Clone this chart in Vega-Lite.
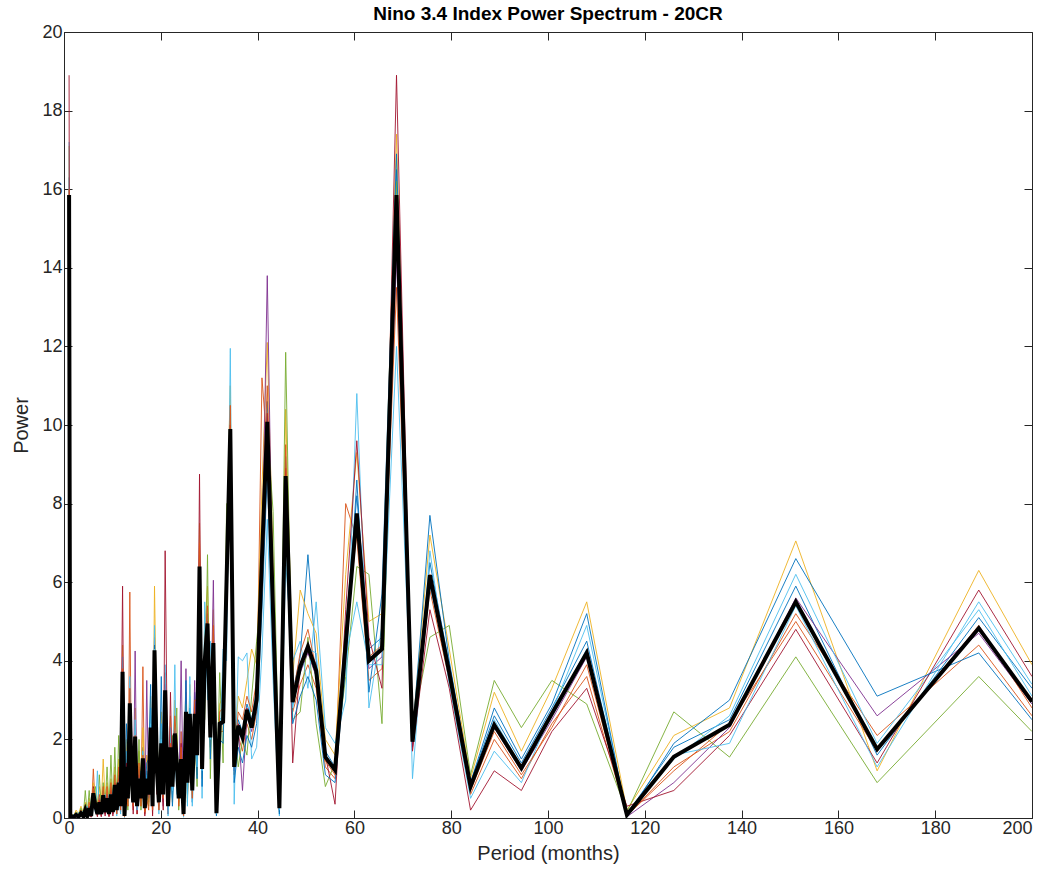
{
"$schema":"https://vega.github.io/schema/vega-lite/v6.json",
"width":968,"height":786,
"autosize":{"type":"none"},
"padding":{"left":64,"top":32,"right":19,"bottom":59},
"background":"white",
"title":{"text":"Nino 3.4 Index Power Spectrum - 20CR","font":"Liberation Sans","fontSize":19,"fontWeight":"bold","color":"#000000","anchor":"middle","baseline":"bottom","offset":0,"dy":20},
"config":{
"view":{"stroke":"#262626","strokeWidth":1},
"axis":{"labelFont":"Liberation Sans","labelFontSize":18,"labelColor":"#262626","titleFont":"Liberation Sans","titleFontSize":20,"titleFontWeight":"normal","titleColor":"#262626","grid":false,"tickColor":"#262626","domainColor":"#262626","tickSize":-8,"labelPadding":10}
},
"datasets":{"s":[
{"p":200,"m":2.96,"a":3.3,"b":2.6,"c":3.9,"d":2.9,"e":2.2,"f":3.1,"g":3.6,"h":2.5,"i":2.8,"j":3.4},
{"p":189,"m":4.83,"a":5.1,"b":4.4,"c":6.3,"d":4.7,"e":3.6,"f":5.3,"g":5.8,"h":4.2,"i":4.9,"j":5.5},
{"p":168,"m":1.75,"a":1.6,"b":2.1,"c":1.2,"d":2.6,"e":0.9,"f":1.9,"g":1.4,"h":3.1,"i":1.7,"j":1.3},
{"p":151.2,"m":5.5,"a":5.9,"b":5.2,"c":7.05,"d":5.6,"e":4.1,"f":6.2,"g":4.8,"h":6.6,"i":5.0,"j":5.4},
{"p":137.5,"m":2.37,"a":2.5,"b":2.2,"c":2.8,"d":2.3,"e":1.55,"f":2.6,"g":2.1,"h":3.0,"i":2.4,"j":1.9},
{"p":126,"m":1.56,"a":1.8,"b":1.3,"c":2.1,"d":0.9,"e":2.7,"f":1.5,"g":0.7,"h":1.9,"i":1.2,"j":1.6},
{"p":116.3,"m":0.08,"a":0.1,"b":0.05,"c":0.2,"d":0.03,"e":0.15,"f":0.08,"g":0.3,"h":0.02,"i":0.06,"j":0.12},
{"p":108,"m":4.2,"a":4.5,"b":3.6,"c":5.5,"d":4.1,"e":2.9,"f":4.9,"g":3.3,"h":5.2,"i":3.9,"j":4.3},
{"p":100.8,"m":2.65,"a":2.8,"b":2.4,"c":3.3,"d":2.5,"e":3.5,"f":2.7,"g":2.2,"h":2.9,"i":2.3,"j":2.6},
{"p":94.5,"m":1.27,"a":1.4,"b":1.0,"c":1.7,"d":1.2,"e":2.3,"f":0.9,"g":0.7,"h":1.5,"i":1.1,"j":1.3},
{"p":88.9,"m":2.37,"a":2.6,"b":2.0,"c":3.2,"d":2.3,"e":3.5,"f":1.7,"g":1.2,"h":2.8,"i":2.2,"j":2.5},
{"p":84,"m":0.8,"a":0.9,"b":0.6,"c":1.0,"d":0.8,"e":1.1,"f":0.5,"g":0.2,"h":0.9,"i":0.7,"j":0.85},
{"p":79.6,"m":3.7,"a":3.9,"b":3.5,"c":4.3,"d":3.6,"e":4.9,"f":3.4,"g":3.3,"h":4.0,"i":3.7,"j":3.8},
{"p":75.6,"m":6.18,"a":6.5,"b":5.8,"c":7.2,"d":6.0,"e":4.6,"f":6.8,"g":5.3,"h":7.7,"i":6.2,"j":5.9},
{"p":72,"m":1.94,"a":2.0,"b":1.9,"c":2.2,"d":1.8,"e":2.3,"f":1.0,"g":1.7,"h":2.1,"i":2.0,"j":1.95},
{"p":68.7,"m":15.85,"a":16.5,"b":15.2,"c":17.4,"d":14.3,"e":16.2,"f":15.8,"g":18.9,"h":16.9,"i":13.5,"j":12.0},
{"p":65.7,"m":4.3,"a":4.6,"b":3.8,"c":5.2,"d":4.1,"e":2.4,"f":4.9,"g":3.3,"h":5.7,"i":4.4,"j":3.9},
{"p":63,"m":4.0,"a":4.3,"b":3.5,"c":5.0,"d":3.8,"e":6.2,"f":2.8,"g":4.6,"h":3.2,"i":4.1,"j":3.9},
{"p":60.5,"m":7.75,"a":8.2,"b":7.1,"c":9.3,"d":7.6,"e":6.4,"f":10.8,"g":9.6,"h":8.6,"i":7.3,"j":5.5},
{"p":58.2,"m":4.44,"a":4.8,"b":8.0,"c":6.2,"d":4.2,"e":3.6,"f":3.0,"g":5.3,"h":3.9,"i":4.5,"j":4.1},
{"p":56,"m":1.22,"a":1.3,"b":1.0,"c":1.6,"d":1.2,"e":1.4,"f":1.9,"g":0.35,"h":0.9,"i":1.1,"j":1.25},
{"p":54,"m":1.55,"a":1.7,"b":1.3,"c":2.0,"d":1.5,"e":0.8,"f":2.3,"g":1.6,"h":1.1,"i":1.45,"j":1.6},
{"p":52.1,"m":3.75,"a":4.0,"b":3.3,"c":4.7,"d":3.6,"e":2.4,"f":5.5,"g":3.9,"h":3.0,"i":3.8,"j":4.2},
{"p":50.4,"m":4.36,"a":6.7,"b":3.9,"c":5.2,"d":4.2,"e":4.6,"f":3.3,"g":4.4,"h":3.6,"i":4.8,"j":4.3},
{"p":48.8,"m":3.85,"a":4.1,"b":3.4,"c":5.8,"d":3.7,"e":2.7,"f":4.5,"g":3.9,"h":3.1,"i":4.2,"j":3.8},
{"p":47.25,"m":2.95,"a":3.2,"b":2.7,"c":3.6,"d":2.9,"e":2.5,"f":4.0,"g":1.4,"h":2.4,"i":3.1,"j":2.8},
{"p":45.8,"m":8.7,"a":9.2,"b":8.1,"c":10.4,"d":8.6,"e":11.85,"f":6.5,"g":8.9,"h":7.6,"i":9.5,"j":8.3},
{"p":44.5,"m":0.25,"a":0.3,"b":0.15,"c":0.45,"d":0.2,"e":0.6,"f":0.05,"g":0.25,"h":0.1,"i":0.35,"j":0.2},
{"p":43.2,"m":5.2,"a":5.6,"b":4.7,"c":6.5,"d":5.0,"e":7.8,"f":3.5,"g":5.3,"h":4.3,"i":5.9,"j":5.1},
{"p":42,"m":10.08,"a":10.6,"b":9.4,"c":12.1,"d":13.8,"e":9.9,"f":7.6,"g":10.3,"h":8.8,"i":11.0,"j":9.7},
{"p":40.9,"m":6.6,"a":7.0,"b":11.2,"c":8.4,"d":6.4,"e":5.9,"f":4.2,"g":6.8,"h":5.3,"i":7.5,"j":6.2},
{"p":39.8,"m":3.0,"a":3.3,"b":2.7,"c":3.9,"d":2.9,"e":4.5,"f":1.8,"g":3.1,"h":2.4,"i":3.5,"j":3.0},
{"p":38.77,"m":2.3,"a":2.5,"b":2.0,"c":4.3,"d":2.2,"e":3.1,"f":1.5,"g":2.4,"h":1.8,"i":2.7,"j":2.3},
{"p":37.8,"m":2.75,"a":2.9,"b":2.4,"c":3.5,"d":2.6,"e":1.6,"f":4.2,"g":2.8,"h":2.1,"i":3.1,"j":2.7},
{"p":36.88,"m":2.05,"a":2.2,"b":1.7,"c":2.8,"d":0.7,"e":2.0,"f":4.0,"g":2.1,"h":1.4,"i":2.5,"j":2.0},
{"p":36.0,"m":2.35,"a":2.5,"b":2.1,"c":3.1,"d":2.3,"e":1.3,"f":4.1,"g":2.4,"h":1.8,"i":2.7,"j":2.2},
{"p":35.16,"m":1.3,"a":1.4,"b":1.1,"c":1.8,"d":1.2,"e":2.4,"f":0.35,"g":1.3,"h":0.9,"i":1.6,"j":1.3},
{"p":34.36,"m":9.9,"a":10.3,"b":9.5,"c":11.0,"d":9.8,"e":8.0,"f":11.95,"g":10.0,"h":9.1,"i":10.5,"j":9.7},
{"p":33.6,"m":6.1,"a":6.4,"b":5.7,"c":7.1,"d":6.0,"e":8.0,"f":4.0,"g":6.2,"h":5.2,"i":6.7,"j":6.0},
{"p":32.87,"m":2.45,"a":2.6,"b":2.2,"c":3.1,"d":2.4,"e":1.4,"f":4.3,"g":2.5,"h":1.9,"i":2.8,"j":2.4},
{"p":32.17,"m":2.4,"a":2.5,"b":2.2,"c":2.9,"d":2.3,"e":3.7,"f":1.5,"g":2.4,"h":2.0,"i":2.7,"j":2.4},
{"p":31.5,"m":0.12,"a":0.15,"b":0.08,"c":0.3,"d":0.1,"e":0.5,"f":0.05,"g":0.12,"h":0.06,"i":0.2,"j":0.1},
{"p":30.86,"m":4.45,"a":4.7,"b":4.1,"c":5.3,"d":6.05,"e":4.4,"f":2.8,"g":4.5,"h":3.7,"i":4.9,"j":4.3},
{"p":30.24,"m":2.05,"a":2.2,"b":1.8,"c":2.7,"d":2.0,"e":1.0,"f":4.5,"g":2.1,"h":1.5,"i":2.4,"j":2.0},
{"p":29.65,"m":4.95,"a":5.2,"b":4.6,"c":5.9,"d":4.9,"e":6.7,"f":3.0,"g":5.0,"h":4.2,"i":5.4,"j":4.8},
{"p":29.08,"m":4.0,"a":4.2,"b":3.7,"c":4.8,"d":3.9,"e":2.5,"f":5.5,"g":4.0,"h":3.3,"i":4.4,"j":3.9},
{"p":28.53,"m":1.25,"a":1.4,"b":1.0,"c":1.8,"d":1.2,"e":2.5,"f":0.5,"g":1.3,"h":0.8,"i":1.5,"j":1.2},
{"p":28.0,"m":6.4,"a":6.7,"b":6.0,"c":7.5,"d":6.3,"e":4.5,"f":5.4,"g":8.75,"h":6.5,"i":7.0,"j":6.2},
{"p":27.5,"m":1.6,"a":1.9,"b":1.1,"c":2.4,"d":1.4,"e":0.8,"f":2.1,"g":1.6,"h":1.0,"i":3.0,"j":1.3},
{"p":27.0,"m":2.65,"a":3.2,"b":1.9,"c":2.9,"d":3.5,"e":2.2,"f":1.5,"g":2.7,"h":2.4,"i":3.0,"j":2.0},
{"p":26.5,"m":0.7,"a":0.4,"b":1.2,"c":0.6,"d":0.9,"e":1.8,"f":0.3,"g":0.8,"h":1.1,"i":0.5,"j":0.7},
{"p":26.0,"m":2.65,"a":2.9,"b":2.2,"c":3.4,"d":2.0,"e":2.6,"f":3.1,"g":1.6,"h":2.8,"i":2.3,"j":3.6},
{"p":25.5,"m":0.9,"a":1.2,"b":0.5,"c":0.8,"d":1.6,"e":0.4,"f":1.0,"g":1.4,"h":0.6,"i":0.9,"j":0.3},
{"p":25.2,"m":2.7,"a":2.4,"b":3.2,"c":2.0,"d":3.8,"e":2.9,"f":1.8,"g":2.6,"h":3.5,"i":2.2,"j":2.7},
{"p":24.7,"m":0.1,"a":0.3,"b":0.05,"c":0.6,"d":0.1,"e":0.4,"f":0.02,"g":0.2,"h":0.8,"i":0.05,"j":0.15},
{"p":24.2,"m":1.5,"a":1.3,"b":2.2,"c":1.0,"d":4.0,"e":1.6,"f":0.7,"g":1.9,"h":1.2,"i":1.8,"j":0.9},
{"p":23.7,"m":0.5,"a":0.7,"b":0.3,"c":1.1,"d":0.4,"e":0.2,"f":0.9,"g":0.5,"h":1.4,"i":0.3,"j":0.6},
{"p":23.3,"m":1.4,"a":1.6,"b":2.1,"c":1.0,"d":1.3,"e":2.8,"f":0.8,"g":1.5,"h":1.1,"i":1.9,"j":0.6},
{"p":22.9,"m":2.15,"a":2.5,"b":1.7,"c":3.0,"d":2.2,"e":1.3,"f":3.9,"g":2.0,"h":1.6,"i":2.6,"j":1.9},
{"p":22.4,"m":0.8,"a":0.6,"b":1.3,"c":0.4,"d":1.0,"e":2.1,"f":0.5,"g":0.9,"h":0.3,"i":1.2,"j":0.7},
{"p":22.0,"m":1.8,"a":2.1,"b":1.4,"c":2.6,"d":1.7,"e":1.0,"f":2.3,"g":3.2,"h":1.5,"i":1.9,"j":1.2},
{"p":21.5,"m":0.3,"a":0.5,"b":0.1,"c":0.8,"d":0.2,"e":0.4,"f":1.2,"g":0.1,"h":0.6,"i":0.3,"j":0.05},
{"p":20.9,"m":3.25,"a":2.8,"b":3.7,"c":2.2,"d":3.4,"e":2.6,"f":3.9,"g":6.8,"h":2.0,"i":3.1,"j":2.5},
{"p":20.5,"m":0.6,"a":0.8,"b":0.4,"c":1.1,"d":0.3,"e":0.7,"f":1.5,"g":0.2,"h":0.9,"i":0.5,"j":0.6},
{"p":20.1,"m":1.9,"a":2.2,"b":1.5,"c":2.7,"d":1.8,"e":1.1,"f":2.4,"g":1.7,"h":3.6,"i":1.3,"j":2.0},
{"p":19.6,"m":0.4,"a":0.6,"b":0.2,"c":0.9,"d":0.3,"e":0.5,"f":0.1,"g":1.0,"h":0.4,"i":0.2,"j":0.7},
{"p":19.2,"m":1.2,"a":1.4,"b":1.0,"c":1.9,"d":0.8,"e":2.5,"f":1.1,"g":0.6,"h":1.3,"i":0.9,"j":1.5},
{"p":18.7,"m":4.27,"a":4.0,"b":3.5,"c":5.9,"d":4.6,"e":3.8,"f":4.9,"g":3.2,"h":4.4,"i":4.1,"j":4.3},
{"p":18.3,"m":0.3,"a":0.5,"b":0.1,"c":0.7,"d":0.2,"e":1.0,"f":0.3,"g":0.05,"h":0.6,"i":0.2,"j":0.4},
{"p":17.9,"m":2.3,"a":2.6,"b":1.9,"c":3.1,"d":2.2,"e":1.5,"f":2.8,"g":2.0,"h":3.4,"i":1.7,"j":2.4},
{"p":17.5,"m":0.6,"a":0.8,"b":0.4,"c":1.2,"d":0.5,"e":0.3,"f":0.9,"g":0.6,"h":1.5,"i":0.2,"j":0.7},
{"p":17.1,"m":1.0,"a":1.2,"b":0.7,"c":1.6,"d":3.5,"e":0.6,"f":1.1,"g":0.9,"h":1.4,"i":0.5,"j":1.0},
{"p":16.7,"m":0.25,"a":0.4,"b":0.1,"c":0.6,"d":0.2,"e":0.9,"f":0.3,"g":0.05,"h":0.5,"i":0.15,"j":0.3},
{"p":16.3,"m":1.52,"a":1.8,"b":3.85,"c":2.3,"d":1.4,"e":0.9,"f":1.7,"g":1.2,"h":1.1,"i":1.6,"j":1.3},
{"p":15.9,"m":0.5,"a":0.7,"b":0.3,"c":1.0,"d":0.4,"e":0.2,"f":0.8,"g":0.5,"h":1.2,"i":0.3,"j":0.6},
{"p":15.5,"m":1.0,"a":1.3,"b":0.7,"c":1.7,"d":0.9,"e":2.0,"f":0.6,"g":1.1,"h":0.8,"i":1.4,"j":1.0},
{"p":15.1,"m":0.3,"a":0.4,"b":0.1,"c":0.7,"d":0.2,"e":0.5,"f":0.9,"g":0.1,"h":0.3,"i":0.6,"j":0.2},
{"p":14.7,"m":2.07,"a":2.3,"b":1.6,"c":2.8,"d":4.25,"e":1.3,"f":2.5,"g":1.9,"h":1.5,"i":2.1,"j":1.8},
{"p":14.3,"m":0.4,"a":0.6,"b":0.2,"c":0.9,"d":0.3,"e":0.5,"f":1.2,"g":0.1,"h":0.7,"i":0.3,"j":0.4},
{"p":13.95,"m":1.1,"a":1.3,"b":0.8,"c":1.8,"d":1.0,"e":0.6,"f":1.5,"g":2.2,"h":0.9,"i":1.2,"j":0.7},
{"p":13.6,"m":2.92,"a":3.2,"b":5.75,"c":2.4,"d":3.0,"e":2.0,"f":3.6,"g":2.6,"h":2.2,"i":3.3,"j":2.5},
{"p":13.2,"m":0.5,"a":0.7,"b":0.3,"c":1.1,"d":0.4,"e":0.2,"f":0.8,"g":0.6,"h":1.4,"i":0.3,"j":0.5},
{"p":12.9,"m":1.3,"a":1.5,"b":1.0,"c":2.0,"d":1.2,"e":0.7,"f":1.7,"g":1.4,"h":2.4,"i":0.9,"j":1.1},
{"p":12.5,"m":0.05,"a":0.1,"b":0.02,"c":0.3,"d":0.05,"e":0.2,"f":0.01,"g":0.08,"h":0.4,"i":0.03,"j":0.1},
{"p":12.1,"m":3.72,"a":4.0,"b":3.3,"c":4.4,"d":3.6,"e":2.8,"f":4.1,"g":5.9,"h":3.1,"i":3.8,"j":2.5},
{"p":11.7,"m":0.3,"a":0.4,"b":0.15,"c":0.7,"d":0.2,"e":0.5,"f":0.1,"g":0.9,"h":0.3,"i":0.2,"j":0.4},
{"p":11.3,"m":0.9,"a":1.1,"b":0.7,"c":1.5,"d":0.8,"e":2.1,"f":0.6,"g":1.0,"h":0.5,"i":1.3,"j":0.9},
{"p":10.9,"m":0.2,"a":0.3,"b":0.1,"c":0.6,"d":0.15,"e":0.4,"f":0.05,"g":0.8,"h":0.2,"i":0.1,"j":0.35},
{"p":10.5,"m":0.84,"a":1.0,"b":0.6,"c":1.3,"d":0.7,"e":1.8,"f":0.5,"g":0.9,"h":0.4,"i":1.1,"j":0.8},
{"p":10.1,"m":0.15,"a":0.25,"b":0.1,"c":0.5,"d":0.1,"e":0.3,"f":0.7,"g":0.05,"h":0.2,"i":0.15,"j":0.3},
{"p":9.7,"m":0.6,"a":0.8,"b":0.4,"c":1.0,"d":0.5,"e":1.6,"f":0.3,"g":0.7,"h":0.5,"i":0.9,"j":0.6},
{"p":9.3,"m":0.1,"a":0.2,"b":0.05,"c":0.4,"d":0.1,"e":0.25,"f":0.6,"g":0.03,"h":0.15,"i":0.1,"j":0.3},
{"p":8.9,"m":0.5,"a":0.6,"b":0.3,"c":0.9,"d":0.4,"e":1.3,"f":0.2,"g":0.6,"h":0.35,"i":0.8,"j":0.5},
{"p":8.5,"m":0.15,"a":0.25,"b":0.1,"c":0.45,"d":0.1,"e":0.3,"f":0.6,"g":0.05,"h":0.2,"i":0.15,"j":0.3},
{"p":8.1,"m":0.58,"a":0.7,"b":0.4,"c":1.5,"d":0.5,"e":0.9,"f":0.3,"g":0.6,"h":0.45,"i":0.8,"j":0.5},
{"p":7.7,"m":0.1,"a":0.15,"b":0.05,"c":0.35,"d":0.1,"e":0.2,"f":0.5,"g":0.03,"h":0.1,"i":0.2,"j":0.25},
{"p":7.3,"m":0.4,"a":0.5,"b":0.3,"c":0.8,"d":0.35,"e":1.1,"f":0.2,"g":0.45,"h":0.25,"i":0.6,"j":0.4},
{"p":6.9,"m":0.1,"a":0.15,"b":0.05,"c":0.3,"d":0.1,"e":0.2,"f":1.2,"g":0.03,"h":0.1,"i":0.2,"j":0.25},
{"p":6.5,"m":0.3,"a":0.4,"b":0.2,"c":0.6,"d":0.25,"e":0.8,"f":0.15,"g":0.35,"h":0.2,"i":0.5,"j":0.3},
{"p":6.06,"m":0.63,"a":0.7,"b":1.25,"c":0.9,"d":0.5,"e":0.6,"f":0.4,"g":0.8,"h":0.45,"i":0.75,"j":0.55},
{"p":5.6,"m":0.05,"a":0.08,"b":0.03,"c":0.2,"d":0.05,"e":0.1,"f":0.35,"g":0.02,"h":0.06,"i":0.1,"j":0.15},
{"p":5.2,"m":0.25,"a":0.3,"b":0.15,"c":0.5,"d":0.2,"e":0.7,"f":0.1,"g":0.3,"h":0.2,"i":0.4,"j":0.25},
{"p":4.8,"m":0.05,"a":0.08,"b":0.02,"c":0.15,"d":0.04,"e":0.1,"f":0.3,"g":0.02,"h":0.06,"i":0.1,"j":0.12},
{"p":4.4,"m":0.2,"a":0.25,"b":0.1,"c":0.4,"d":0.15,"e":0.7,"f":0.1,"g":0.2,"h":0.15,"i":0.3,"j":0.2},
{"p":4.0,"m":0.04,"a":0.06,"b":0.02,"c":0.12,"d":0.03,"e":0.08,"f":0.2,"g":0.01,"h":0.05,"i":0.07,"j":0.1},
{"p":3.5,"m":0.12,"a":0.15,"b":0.08,"c":0.3,"d":0.1,"e":0.25,"f":0.05,"g":0.12,"h":0.1,"i":0.2,"j":0.14},
{"p":3.0,"m":0.03,"a":0.05,"b":0.02,"c":0.1,"d":0.03,"e":0.06,"f":0.15,"g":0.01,"h":0.04,"i":0.05,"j":0.08},
{"p":2.5,"m":0.08,"a":0.1,"b":0.05,"c":0.2,"d":0.06,"e":0.15,"f":0.03,"g":0.08,"h":0.07,"i":0.12,"j":0.1},
{"p":2.0,"m":0.02,"a":0.03,"b":0.01,"c":0.06,"d":0.02,"e":0.04,"f":0.1,"g":0.01,"h":0.03,"i":0.04,"j":0.05},
{"p":1.5,"m":0.05,"a":0.06,"b":0.03,"c":0.12,"d":0.04,"e":0.08,"f":0.02,"g":0.05,"h":0.04,"i":0.07,"j":0.06},
{"p":1.3,"m":0.03,"a":0.04,"b":0.02,"c":0.08,"d":0.03,"e":0.05,"f":0.1,"g":0.02,"h":0.03,"i":0.04,"j":0.05},
{"p":1.05,"m":15.85,"a":16.3,"b":15.2,"c":17.1,"d":15.6,"e":14.6,"f":17.2,"g":18.9,"h":15.0,"i":16.0,"j":15.4}
]},
"layer":[
{"data":{"name":"s"},
"transform":[{"fold":["a","b","c","d","e","f","g","h","i","j"],"as":["k","v"]}],
"mark":{"type":"line","strokeWidth":0.9,"clip":true},
"encoding":{
"x":{"field":"p","type":"quantitative","scale":{"domain":[0,200],"nice":false},"axis":{"values":[0,20,40,60,80,100,120,140,160,180,200],"title":"Period (months)","titlePadding":6,"labelFontSize":18,"titleFontSize":20,"labelPadding":9}},
"y":{"field":"v","type":"quantitative","scale":{"domain":[0,20],"nice":false},"axis":{"values":[0,2,4,6,8,10,12,14,16,18,20],"title":"Power","titlePadding":10,"labelFontSize":18,"titleFontSize":20,"labelPadding":10}},
"color":{"field":"k","type":"nominal","legend":null,"scale":{"domain":["a","b","c","d","e","f","g","h","i","j"],"range":["#0072BD","#D95319","#EDB120","#7E2F8E","#77AC30","#4DBEEE","#A2142F","#0072BD","#D95319","#4DBEEE"]}}
}},
{"data":{"name":"s"},
"mark":{"type":"line","strokeWidth":4,"color":"#000000","clip":true},
"encoding":{
"x":{"field":"p","type":"quantitative","scale":{"domain":[0,200],"nice":false},"axis":{"orient":"top","values":[0,20,40,60,80,100,120,140,160,180,200],"labels":false,"title":null,"domain":false}},
"y":{"field":"m","type":"quantitative","scale":{"domain":[0,20],"nice":false},"axis":{"orient":"right","values":[0,2,4,6,8,10,12,14,16,18,20],"labels":false,"title":null,"domain":false}}
}}
],
"resolve":{"axis":{"x":"independent","y":"independent"}}
}
